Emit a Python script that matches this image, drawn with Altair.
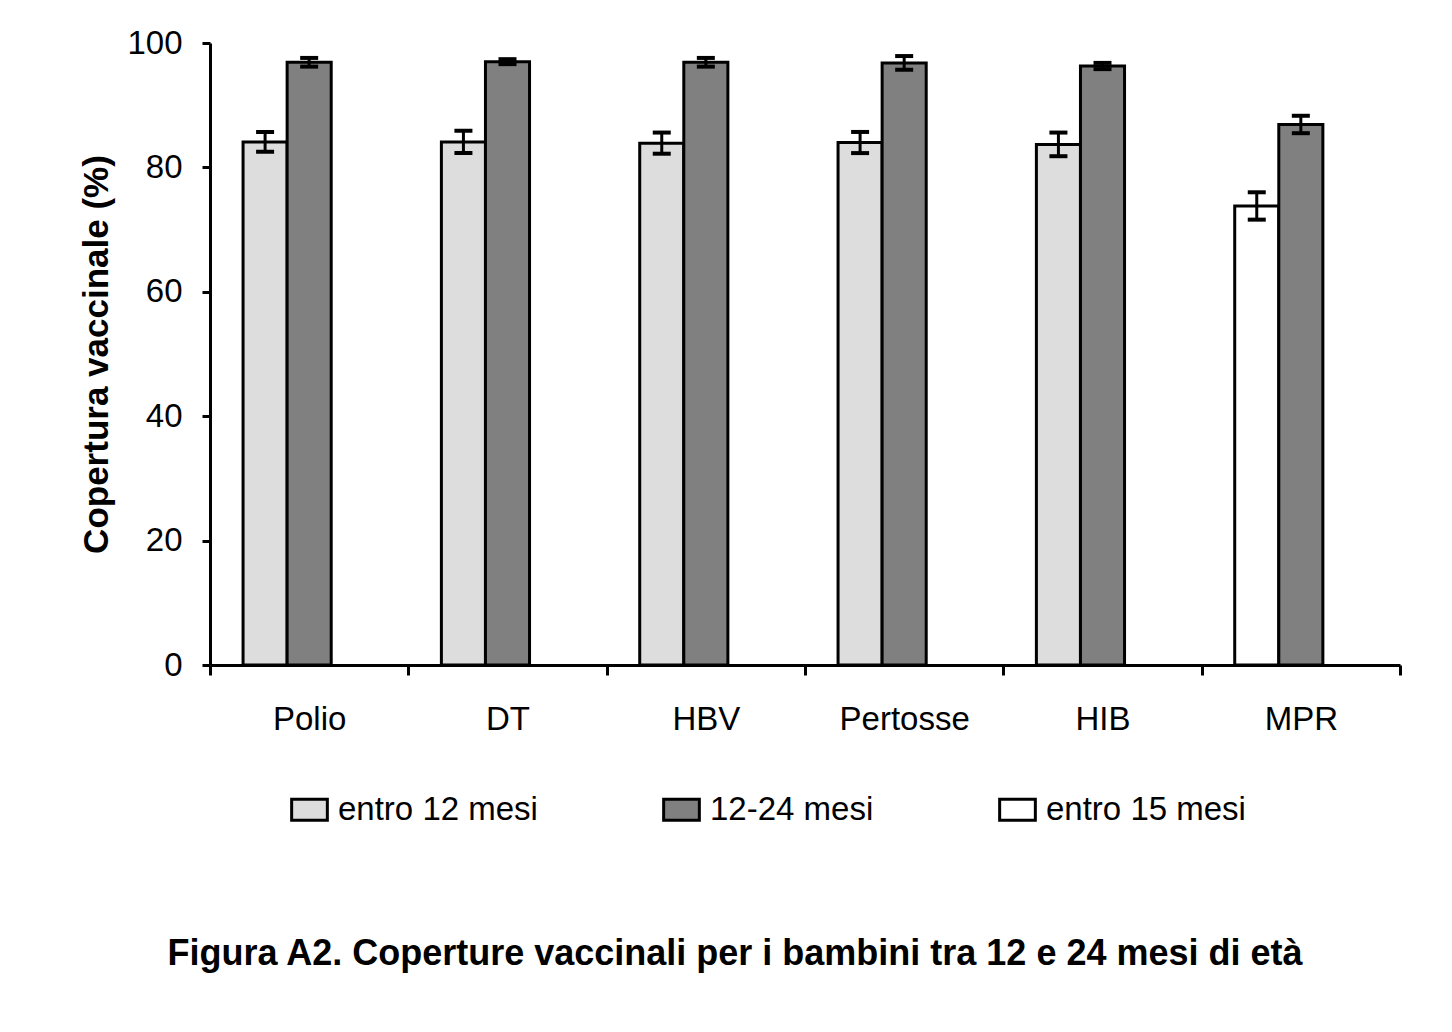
import altair as alt
import pandas as pd

categories = ["Polio", "DT", "HBV", "Pertosse", "HIB", "MPR"]
first_series = ["entro 12 mesi"] * 5 + ["entro 15 mesi"]
first_values = [84.1, 84.1, 83.9, 84.0, 83.7, 73.8]
first_errors = [1.6, 1.8, 1.7, 1.7, 1.9, 2.2]
second_series = "12-24 mesi"
second_values = [96.9, 97.0, 96.9, 96.8, 96.3, 86.9]
second_errors = [0.7, 0.4, 0.7, 1.1, 0.5, 1.4]
series_order = ["entro 12 mesi", "12-24 mesi", "entro 15 mesi"]
series_colors = ["#dddddd", "#808080", "#ffffff"]
slots = ["a", "b", "c"]
y_ticks = [0, 20, 40, 60, 80, 100]

rows = []
for i, c in enumerate(categories):
    rows.append(dict(cat=c, serie=first_series[i], slot="a", v=first_values[i],
                     lo=first_values[i] - first_errors[i], hi=first_values[i] + first_errors[i]))
    rows.append(dict(cat=c, serie=second_series, slot="b", v=second_values[i],
                     lo=second_values[i] - second_errors[i], hi=second_values[i] + second_errors[i]))
df = pd.DataFrame(rows)

FONT = "Liberation Sans"
FS = 33

x = alt.X("cat:N", sort=categories,
          scale=alt.Scale(paddingInner=0, paddingOuter=0),
          axis=alt.Axis(title=None, tickBand="extent", labelAngle=0, labelFontSize=FS,
                        labelFont=FONT, labelColor="black", labelPadding=28, tickSize=10,
                        tickWidth=3, tickColor="black", domainWidth=3, domainColor="black",
                        labelBaseline="top"))
xo = alt.XOffset("slot:N", scale=alt.Scale(domain=slots, paddingInner=0, paddingOuter=0.75))
yscale = alt.Scale(domain=[0, 100], nice=False)

bars = alt.Chart(df).mark_bar(stroke="black", strokeWidth=3, opacity=1).encode(
    x=x, xOffset=xo,
    y=alt.Y("v:Q", scale=yscale,
            axis=alt.Axis(values=y_ticks, title="Copertura vaccinale (%)", titleFontSize=35,
                          titleFont=FONT, titleFontWeight="bold", titleColor="black",
                          titlePadding=12, grid=False, tickSize=8, tickWidth=3,
                          tickColor="black", domainWidth=3, domainColor="black",
                          labelFontSize=FS, labelFont=FONT, labelColor="black",
                          labelPadding=20)),
    color=alt.Color("serie:N", scale=alt.Scale(domain=series_order, range=series_colors),
                    legend=alt.Legend(orient="none", legendX=83, legendY=750,
                                      direction="horizontal", title=None,
                                      symbolType="M-1.7,-1L1.7,-1L1.7,1L-1.7,1Z",
                                      symbolSize=441, symbolStrokeColor="black",
                                      symbolStrokeWidth=3, symbolOpacity=1,
                                      labelFontSize=FS, labelFont=FONT, labelColor="black",
                                      labelLimit=500, labelOffset=12, columnPadding=119)),
)

rule = alt.Chart(df).mark_rule(color="black", strokeWidth=3).encode(
    x=x, xOffset=xo, y=alt.Y("lo:Q", scale=yscale), y2="hi:Q")
cap_lo = alt.Chart(df).mark_tick(color="black", thickness=4, size=18, opacity=1).encode(
    x=x, xOffset=xo, y=alt.Y("lo:Q", scale=yscale))
cap_hi = alt.Chart(df).mark_tick(color="black", thickness=4, size=18, opacity=1).encode(
    x=x, xOffset=xo, y=alt.Y("hi:Q", scale=yscale))

chart = alt.layer(bars, rule, cap_lo, cap_hi).properties(
    width=1190, height=622,
    autosize=alt.AutoSizeParams(type="none"),
    padding={"left": 202, "top": 35, "right": 30, "bottom": 340},
    background="white",
    title=alt.TitleParams("Figura A2. Coperture vaccinali per i bambini tra 12 e 24 mesi di età",
                          orient="bottom", anchor="middle", fontSize=36, font=FONT,
                          fontWeight="bold", color="black", offset=110, dx=-70),
).configure_view(stroke=None)

chart.save("out.html", embed_options={"renderer": "svg", "actions": False})
